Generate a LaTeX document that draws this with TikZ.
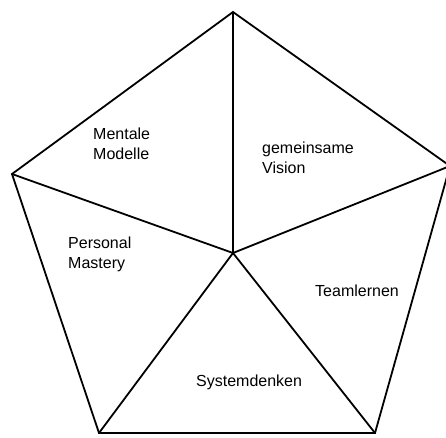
\documentclass[tikz,border=0pt]{standalone}
\usepackage{fontspec}
\setmainfont{Liberation Sans}
\begin{document}
\begin{tikzpicture}[x=1pt,y=-1pt,
  edge/.style={line width=1.8pt, line join=miter, line cap=round},
  lbl/.style={font=\fontsize{16}{20}\selectfont, align=left, inner sep=0pt}]
\useasboundingbox (0,0) rectangle (446,437);
\fill[white] (0,0) rectangle (446,437);
\begin{scope}
\clip (0,0) rectangle (446,437);
\coordinate (T) at (233,12);
\coordinate (R) at (450,166);
\coordinate (BR) at (375,433);
\coordinate (BL) at (99,433);
\coordinate (L) at (12,174);
\coordinate (C) at (233,253);
\draw[edge] (T) -- (R) -- (BR) -- (BL) -- (L) -- cycle;
\draw[edge] (C) -- (T);
\draw[edge] (C) -- (R);
\draw[edge] (C) -- (BR);
\draw[edge] (C) -- (BL);
\draw[edge] (C) -- (L);
\end{scope}
\node[lbl, anchor=base west] (mm) at (93,159) {Mentale\\Modelle};
\node[lbl, anchor=base west] (gv) at (262,173) {gemeinsame\\Vision};
\node[lbl, anchor=base west] (pm) at (68,268) {Personal\\Mastery};
\node[lbl, anchor=base west] (tl) at (315,296) {Teamlernen};
\node[lbl, anchor=base west] (sd) at (196,386) {Systemdenken};
\end{tikzpicture}
\end{document}
